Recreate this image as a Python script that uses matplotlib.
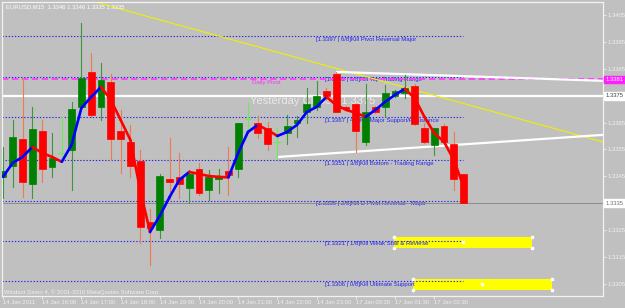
import numpy as np
import matplotlib
matplotlib.use('Agg')
import matplotlib.pyplot as plt
from matplotlib.patches import Rectangle

# EURUSD M15 bars (open, high, low, close)
opens = [1.33448, 1.33489, 1.33589, 1.33422, 1.33619, 1.33485, 1.33537, 1.33548, 1.33708, 1.33838,
         1.33708, 1.33801, 1.33619, 1.33578, 1.33507, 1.33280, 1.33251, 1.33441, 1.33448, 1.33407,
         1.33477, 1.33400, 1.33441, 1.33470, 1.33477, 1.33663, 1.33649, 1.33630, 1.33578, 1.33611,
         1.33649, 1.33690, 1.33708, 1.33767, 1.33831, 1.33706, 1.33719, 1.33578, 1.33708, 1.33708,
         1.33749, 1.33760, 1.33786, 1.33630, 1.33567, 1.33637, 1.33570, 1.33460]
highs = [1.33559, 1.33660, 1.33816, 1.33708, 1.33660, 1.33611, 1.33671, 1.33727, 1.34020, 1.33909,
         1.33872, 1.33831, 1.33697, 1.33641, 1.33548, 1.33329, 1.33460, 1.33593, 1.33537, 1.33474,
         1.33500, 1.33474, 1.33477, 1.33559, 1.33649, 1.33727, 1.33675, 1.33652, 1.33630, 1.33678,
         1.33675, 1.33779, 1.33805, 1.33779, 1.33838, 1.33712, 1.33719, 1.33793, 1.33712, 1.33790,
         1.33771, 1.33827, 1.33793, 1.33649, 1.33630, 1.33645, 1.33615, 1.33460]
lows = [1.33370, 1.33410, 1.33373, 1.33370, 1.33429, 1.33448, 1.33511, 1.33400, 1.33700, 1.33672,
        1.33660, 1.33511, 1.33463, 1.33448, 1.33202, 1.33121, 1.33221, 1.33366, 1.33370, 1.33351,
        1.33381, 1.33362, 1.33388, 1.33381, 1.33448, 1.33615, 1.33593, 1.33548, 1.33518, 1.33570,
        1.33596, 1.33649, 1.33697, 1.33734, 1.33690, 1.33698, 1.33541, 1.33567, 1.33686, 1.33671,
        1.33745, 1.33741, 1.33641, 1.33574, 1.33530, 1.33574, 1.33400, 1.33350]
closes = [1.33470, 1.33596, 1.33429, 1.33626, 1.33477, 1.33518, 1.33537, 1.33700, 1.33816, 1.33678,
          1.33808, 1.33589, 1.33589, 1.33489, 1.33262, 1.33258, 1.33451, 1.33429, 1.33422, 1.33459,
          1.33388, 1.33448, 1.33448, 1.33455, 1.33649, 1.33663, 1.33611, 1.33570, 1.33578, 1.33637,
          1.33660, 1.33719, 1.33749, 1.33749, 1.33690, 1.33702, 1.33619, 1.33690, 1.33690, 1.33760,
          1.33767, 1.33779, 1.33645, 1.33578, 1.33630, 1.33578, 1.33441, 1.33350]

# moving average line (blue when rising, red when falling)
movingAvg = [1.33448, 1.33500, 1.33522, 1.33559, 1.33537, 1.33522, 1.33504, 1.33567, 1.33704, 1.33745,
             1.33782, 1.33734, 1.33660, 1.33585, 1.33399, 1.33243, 1.33303, 1.33373, 1.33437, 1.33466,
             1.33459, 1.33451, 1.33448, 1.33446, 1.33537, 1.33615, 1.33641, 1.33622, 1.33600, 1.33615,
             1.33641, 1.33689, 1.33708, 1.33745, 1.33715, 1.33697, 1.33686, 1.33671, 1.33697, 1.33727,
             1.33753, 1.33775, 1.33741, 1.33671, 1.33611, 1.33578, 1.33511, 1.33411]

timeLabels = ['14 Jan 2011', '14 Jan 16:00', '14 Jan 17:00', '14 Jan 18:00', '14 Jan 19:00',
              '14 Jan 20:00', '14 Jan 21:00', '14 Jan 22:00', '14 Jan 23:00', '17 Jan 00:30',
              '17 Jan 01:30', '17 Jan 02:30']

murreyLevels = [1.3397, 1.3382, 1.3367, 1.3351, 1.3336, 1.3321, 1.3306]
murreyNames = ['6/8]Kill Pivot Reversal Major', '5/8]Kill Top  Trading Range',
               '4/8]Kill Major Support/Resistance', '3/8]Kill Bottom - Trading Range',
               '2/8]Kill D Pivot Reversal - Major', '1/8]Kill Weak Stall & Reverse',
               '0/8]Kill Ultimate Support']

priceTicks = [1.3305, 1.3315, 1.3325, 1.3345, 1.3355, 1.3365, 1.3385, 1.3395, 1.3405]
dailyPivot = 1.3381
yesterdayClose = 1.3375
lastPrice = 1.3335

# trend lines: (bar start, bar end), (price start, price end)
upperTrendX = [34.1, 61.2]
upperTrendY = [1.33838, 1.33805]
lowerTrendX = [28.1, 61.2]
lowerTrendY = [1.33522, 1.33604]
yellowTrendX = [9.4, 61.2]
yellowTrendY = [1.34098, 1.33578]

# yellow boxes: bar start, bar end, price low, price high
boxStarts = [39.9, 41.8]
boxEnds = [54.0, 56.0]
boxLows = [1.33184, 1.33028]
boxHighs = [1.33225, 1.33069]

bg = '#c0c0c0'
fnt = 'Liberation Sans'

fig = plt.figure(figsize=(6.25, 3.08), dpi=100, facecolor=bg)
ax = fig.add_axes([2 / 625, 12 / 308, 601 / 625, 294 / 308])
ax.set_facecolor(bg)
ax.set_xlim(-0.1, 61.22)
ax.set_ylim(1.33005, 1.34098)

# yellow boxes under everything
for x0, x1, lo, hi in zip(boxStarts, boxEnds, boxLows, boxHighs):
    ax.add_patch(Rectangle((x0, lo), x1 - x0, hi - lo, facecolor='#ffff00', edgecolor='none', zorder=1))
    ax.plot([x0, x0, x1, x1, (x0 + x1) / 2], [lo, hi, lo, hi, (lo + hi) / 2], 's', ms=1.6,
            color='white', zorder=6)

# murrey math lines and labels
for level, name in zip(murreyLevels, murreyNames):
    ax.plot([-0.1, 46.9], [level, level], color='#2424f0', lw=0.8, ls=(0, (1.2, 1.6)), zorder=2)
    xLabel = 31.9 if name.startswith(('6/8', '2/8')) else 32.9
    ax.text(xLabel, level - 0.00002, '[%.4f | %s' % (level, name), fontsize=4.3, family=fnt,
            color='#2424f0', va='top', ha='left', zorder=2)

# horizontal price lines
ax.axhline(dailyPivot, color='#ff40ff', lw=1.3, ls=(0, (3.5, 2)), zorder=2)
ax.text(25.4, dailyPivot - 0.00003, 'Daily Pivot', fontsize=4.3, family=fnt, color='#ff30ff',
        va='top', ha='left', zorder=2)
ax.axhline(yesterdayClose, color='white', lw=1.6, zorder=2)
ax.axhline(lastPrice, color='#8c8c8c', lw=0.7, zorder=2)
ax.text(25.2, 1.3373, 'Yesterday Close - 1.3375', fontsize=8, family=fnt, color='#f4f4f4',
        alpha=0.8, va='center', ha='left', zorder=2)

# trend lines
ax.plot(yellowTrendX, yellowTrendY, color='#f0f000', lw=0.8, zorder=2)
ax.plot(upperTrendX, upperTrendY, color='white', lw=1.6, zorder=2)
ax.plot(lowerTrendX, lowerTrendY, color='white', lw=1.6, zorder=2)

# candles
for i in range(len(opens)):
    o, h, l, c = opens[i], highs[i], lows[i], closes[i]
    if abs(c - o) < 0.000015:
        ax.plot([i, i], [l, h], color='#66ee55', lw=0.8, zorder=3)
        ax.plot([i - 0.35, i + 0.35], [o, o], color='#66ee55', lw=0.8, zorder=3)
        continue
    if c > o:
        wick, body = '#3c963c', '#008000'
    else:
        wick, body = '#f07a50', '#ff0000'
    ax.plot([i, i], [l, h], color=wick, lw=0.8, zorder=3)
    ax.add_patch(Rectangle((i - 0.35, min(o, c)), 0.7, abs(c - o), facecolor=body,
                           edgecolor=body, lw=0.5, zorder=4))

# moving average coloured by direction
for i in range(1, len(movingAvg)):
    col = '#0000ff' if movingAvg[i] >= movingAvg[i - 1] else '#ff0000'
    ax.plot([i - 1, i], [movingAvg[i - 1], movingAvg[i]], color=col, lw=1.9,
            solid_capstyle='round', zorder=5)

# axes styling
for sp in ax.spines.values():
    sp.set_color('#f2f2f2')
    sp.set_linewidth(0.9)
ax.yaxis.tick_right()
ax.set_yticks(priceTicks)
ax.set_yticklabels(['%.4f' % p for p in priceTicks], fontsize=4.2, family=fnt, color='white')
ax.tick_params(axis='y', length=2, pad=1.5, colors='#f0f0f0', width=0.6)
ax.set_xticks(range(0, 48, 4))
ax.set_xticklabels(timeLabels, fontsize=4.2, family=fnt, color='white', ha='left')
ax.tick_params(axis='x', length=2, pad=1, colors='#f0f0f0', width=0.6)

# price boxes on the right scale
for level, face, txt in [(dailyPivot, '#ff20ff', 'white'), (yesterdayClose, 'white', '#404040'),
                         (lastPrice, 'white', '#707070')]:
    ax.text(1.004, level, '%.4f' % level, transform=ax.get_yaxis_transform(), fontsize=4.2,
            family=fnt, color=txt, va='center', ha='left', clip_on=False,
            bbox=dict(boxstyle='square,pad=0.25', facecolor=face, edgecolor=face))

fig.text(6 / 625, 1 - 7 / 308, 'EURUSD,M15  1.3346 1.3346 1.3335 1.3335', fontsize=4.2,
         family=fnt, color='white', va='center', ha='left')
fig.text(4 / 625, 1 - 292 / 308, 'Windsor Direct 4, \u00a9 2001-2010 MetaQuotes Software Corp.',
         fontsize=4.2, family=fnt, color='#f0f0f0', va='center', ha='left')

fig.savefig('out.png', dpi=100, facecolor=bg)
